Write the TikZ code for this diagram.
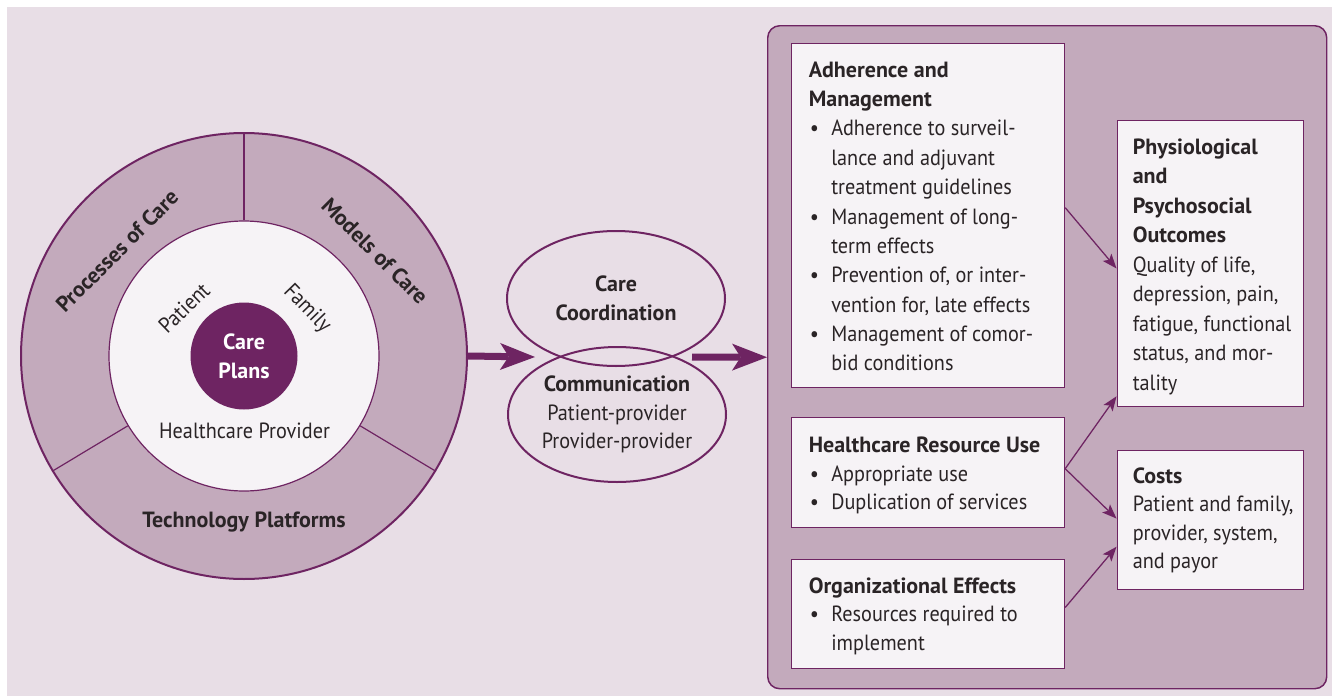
\documentclass[tikz,border=0pt]{standalone}
\usepackage{fontspec}
\setmainfont{PT Sans}[UprightFeatures={FakeStretch=0.92}, BoldFeatures={FakeStretch=1.0}]
\usetikzlibrary{shapes.geometric,arrows.meta,calc}
\newlength\px \setlength\px{0.75pt}
\definecolor{bg}{HTML}{E8DEE6}
\definecolor{mauve}{HTML}{C3AABC}
\definecolor{plum}{HTML}{6E2462}
\definecolor{wbox}{HTML}{F6F3F6}
\definecolor{ink}{HTML}{2A2426}
\newcommand\bul{\makebox[22.5\px][l]{\hspace{1\px}\textbullet}}
\newcommand\ind{\hspace*{22.5\px}}
\newcommand\tb[2]{\parbox[t]{320\px}{\raggedright\fontsize{16.5pt}{#1}\selectfont #2}}
\tikzset{
  ring/.style={circle, draw=plum, line width=1.5pt, fill=mauve, minimum size=446\px, inner sep=0},
  hub/.style={circle, draw=plum, line width=0.9pt, fill=wbox, minimum size=270\px, inner sep=0},
  core/.style={circle, fill=plum, minimum size=107\px, inner sep=0, text=white, align=center,
    font=\fontsize{16.5pt}{21.75pt}\selectfont\bfseries},
  divline/.style={draw=plum, line width=0.9pt},
  lbl/.style={text=ink, inner sep=0, font=\fontsize{16.5pt}{21.75pt}\selectfont},
  blbl/.style={lbl, font=\fontsize{16.5pt}{21.75pt}\selectfont\bfseries},
  ell/.style={ellipse, draw=plum, line width=1.5pt, minimum width=218\px, minimum height=135\px,
    inner sep=0, text=ink, align=center, font=\fontsize{16.5pt}{21.4pt}\selectfont},
  bigbox/.style={rectangle, rounded corners=9pt, draw=plum, line width=1.1pt, fill=mauve,
    minimum width=559\px, minimum height=663\px, anchor=north west, inner sep=0},
  wb/.style={rectangle, draw=plum, line width=0.9pt, fill=wbox, anchor=north west, inner sep=0},
  txt/.style={text=ink, inner sep=0, anchor=base west},
  bigarrow/.style={draw=plum, line width=5.25pt,
    -{Stealth[length=26.25pt, width=20.25pt, inset=6.5pt, line width=0pt]}},
  arr/.style={draw=plum, line width=0.95pt,
    -{Stealth[length=11pt, width=8.5pt, inset=2.5pt, line width=0pt]}},
}
\begin{document}
\begin{tikzpicture}[x=1\px, y=-1\px]
\useasboundingbox (0,0) rectangle (1332,696);
\fill[white] (0,0) rectangle (1332,696);
\fill[bg] (7,7) rectangle (1332,696);

% left circle
\node[ring] (outer) at (244,356) {};
\node[hub] (inner) at (244,356) {};
\draw[divline] (inner.90) -- (outer.90);
\draw[divline] (inner.211) -- (outer.211);
\draw[divline] (inner.329) -- (outer.329);
\node[core] (plans) at (244,356) {Care\\Plans};
\node[blbl, rotate=45] (proc) at (117,251) {Processes of Care};
\node[blbl, rotate=-45] (models) at (375,251) {Models of Care};
\node[blbl, anchor=base] (tech) at (244,527) {Technology Platforms};
\node[lbl, rotate=44] (patient) at (184,308) {Patient};
\node[lbl, rotate=-46] (family) at (307,309) {Family};
\node[lbl, anchor=base] (hcp) at (244.5,438.3) {Healthcare Provider};

% middle ellipses
\node[ell] (coord) at (616,298.5) {\textbf{Care}\\\textbf{Coordination}};
\node[ell] (comm) at (617,414.5) {\textbf{Communication}\\Patient-provider\\Provider-provider};

% big right panel
\node[bigbox] (R) at (767,25) {};
\node[wb, minimum width=273\px, minimum height=344\px] (A) at (791,43) {};
\node[wb, minimum width=273\px, minimum height=109.5\px] (B) at (791,417) {};
\node[wb, minimum width=273\px, minimum height=109\px] (C) at (791,559) {};
\node[wb, minimum width=186\px, minimum height=286\px] (D) at (1116.5,120) {};
\node[wb, minimum width=186\px, minimum height=139\px] (E) at (1116.5,450) {};

\node[txt] (At) at (808.5,77) {\tb{22.05pt}{\textbf{Adherence and}\\
\textbf{Management}\\
\bul Adherence to surveil-\\
\ind lance and adjuvant\\
\ind treatment guidelines\\
\bul Management of long-\\
\ind term effects\\
\bul Prevention of, or inter-\\
\ind vention for, late effects\\
\bul Management of comor-\\
\ind bid conditions}};
\node[txt] (Bt) at (808.5,452.7) {\tb{21.3pt}{\textbf{Healthcare Resource Use}\\
\bul Appropriate use\\
\bul Duplication of services}};
\node[txt] (Ct) at (808.5,593.2) {\tb{21.3pt}{\textbf{Organizational Effects}\\
\bul Resources required to\\
\ind implement}};
\node[txt] (Dt) at (1132.5,154.5) {\tb{22.1pt}{\textbf{Physiological}\\
\textbf{and}\\
\textbf{Psychosocial}\\
\textbf{Outcomes}\\
Quality of life,\\
depression, pain,\\
fatigue, functional\\
status, and mor-\\
tality}};
\node[txt] (Et) at (1132.5,483.3) {\tb{21.3pt}{\textbf{Costs}\\
Patient and family,\\
provider, system,\\
and payor}};

% thick arrows
\coordinate (in1) at (535,357);
\coordinate (out1) at (692,357);
\draw[bigarrow] (outer.east) -- (in1);
\draw[bigarrow] (out1) -- (R.west);

% thin arrows
\draw[arr] ($(A.north east)!0.477!(A.south east)$) -- ($(D.north west)!0.517!(D.south west)$);
\draw[arr] ($(B.north east)!0.467!(B.south east)$) -- ($(D.north west)!0.962!(D.south west)$);
\draw[arr] ($(B.north east)!0.467!(B.south east)$) -- ($(E.north west)!0.489!(E.south west)$);
\draw[arr] ($(C.north east)!0.44!(C.south east)$) -- ($(E.north west)!0.69!(E.south west)$);
\end{tikzpicture}
\end{document}
